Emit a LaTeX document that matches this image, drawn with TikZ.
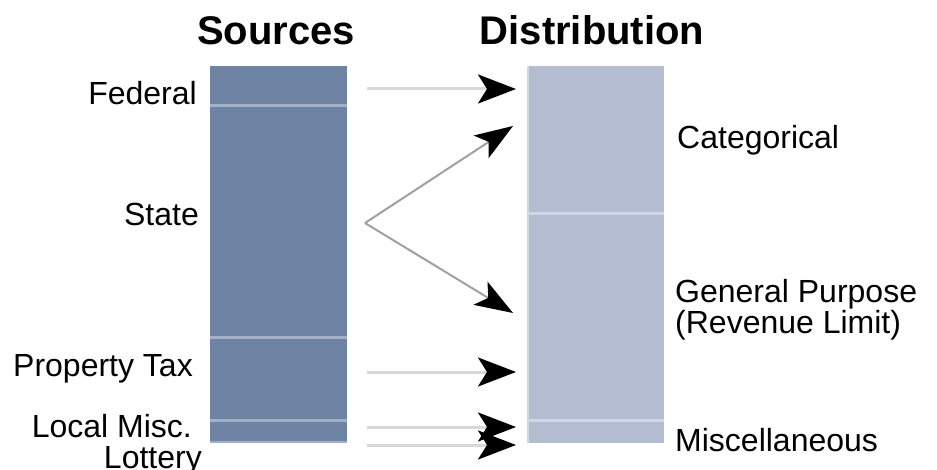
\documentclass[tikz,border=0pt]{standalone}
\usepackage{fontspec}
\setmainfont{Liberation Sans}
\usetikzlibrary{arrows.meta}
\definecolor{srcbar}{HTML}{6F84A4}
\definecolor{srcdiv}{HTML}{A3B0C8}
\definecolor{dstbar}{HTML}{B3BCD0}
\definecolor{dstdiv}{HTML}{D0D6E4}
\definecolor{flowline}{HTML}{D8D8D8}
\definecolor{diagline}{HTML}{A0A0A0}
\tikzset{
  lbl/.style={inner sep=0pt, font=\fontsize{32}{36}\selectfont},
  ttl/.style={inner sep=0pt, anchor=base, font=\fontsize{40}{44}\selectfont\bfseries},
  flow/.style={draw=flowline, line width=3pt, -{Stealth[length=38pt,width=29pt,inset=9pt,color=black]}},
  diag/.style={draw=diagline, line width=2pt, -{Stealth[length=38pt,width=27pt,inset=9pt,color=black]}},
}
\begin{document}
\begin{tikzpicture}[x=1pt,y=-1pt]
\useasboundingbox (0,0) rectangle (937,470);
% bars
\fill[srcbar] (210,66) rectangle (347,442);
\fill[dstbar] (527,66) rectangle (664,443);
\draw[srcdiv, line width=3pt] (210,106) -- (347,106);
\draw[srcdiv, line width=3pt] (210,337) -- (347,337);
\draw[srcdiv, line width=3pt] (210,420) -- (347,420);
\draw[srcdiv, line width=2pt] (210,442) -- (347,442);
\draw[dstdiv, line width=3pt] (527,214) -- (664,214);
\draw[dstdiv, line width=3pt] (527,420) -- (664,420);
\draw[dstdiv, line width=1.5pt] (528,66) -- (528,443);
% titles
\node[ttl] (tsrc) at (276,45) {Sources};
\node[ttl] (tdst) at (592,45) {Distribution};
% source labels
\node[lbl, anchor=base east] (federal) at (197,105) {Federal};
\node[lbl, anchor=base east] (state) at (199,226) {State};
\node[lbl, anchor=base east] (prop) at (193,376) {Property Tax};
\node[lbl, anchor=base east] (local) at (192,437) {Local Misc.};
\node[lbl, anchor=base east] (lottery) at (202,468) {Lottery};
% distribution labels
\node[lbl, anchor=base west] (categ) at (677,149) {Categorical};
\node[lbl, anchor=base west, align=left] (gen) at (675,334) {General Purpose\\[-5pt](Revenue Limit)};
\node[lbl, anchor=base west] (misc) at (675,451) {Miscellaneous};
% arrow endpoints
\coordinate (f0) at (367,89);  \coordinate (f1) at (516,89);
\coordinate (s0) at (365,223);
\coordinate (s1) at (513,126); \coordinate (s2) at (513,313);
\coordinate (p0) at (367,372); \coordinate (p1) at (516,372);
\coordinate (l0) at (367,427); \coordinate (l1) at (516,427);
\coordinate (o0) at (367,445); \coordinate (o1) at (516,445);
\draw[flow] (f0) -- (f1);
\draw[diag] (s0) -- (s1);
\draw[diag] (s0) -- (s2);
\draw[flow] (p0) -- (p1);
\draw[flow] (l0) -- (l1);
\draw[flow] (o0) -- (o1);
\end{tikzpicture}
\end{document}
